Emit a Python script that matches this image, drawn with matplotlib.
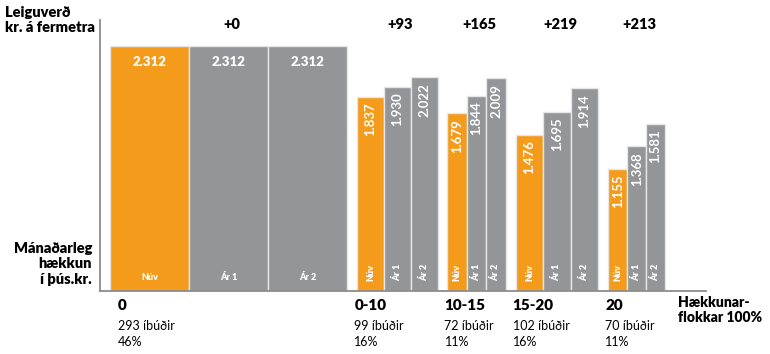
import matplotlib
matplotlib.use("Agg")
import matplotlib.pyplot as plt
from matplotlib.transforms import offset_copy

plt.rcParams['font.family'] = ['Lato', 'DejaVu Sans']

groups = ["0", "0-10", "10-15", "15-20", "20"]
counts = [293, 99, 72, 102, 70]
shares = ["46%", "16%", "11%", "16%", "11%"]
nuv = [2312, 1837, 1679, 1476, 1155]
ar1 = [2312, 1930, 1844, 1695, 1368]
ar2 = [2312, 2022, 2009, 1914, 1581]
increase = ["+0", "+93", "+165", "+219", "+213"]
series_names = ["Núv", "Ár 1", "Ár 2"]

ORANGE = "#F59B1C"
GRAY = "#939598"
colors = [ORANGE, GRAY, GRAY]

fig = plt.figure(figsize=(7.7, 3.54), dpi=100)
ax = fig.add_axes([100/770, (354-291)/354, 606/770, 271/354])
ax.set_xlim(0, 748)
ax.set_ylim(0, 2560)
for s in ["top", "right"]:
    ax.spines[s].set_visible(False)
ax.spines["left"].set_color("#8c8c8c")
ax.spines["bottom"].set_color("#8c8c8c")
ax.spines["left"].set_linewidth(1.3)
ax.spines["bottom"].set_linewidth(1.3)
ax.set_xticks([])
ax.set_yticks([])

gap = 12.3
x = gap
for gi, g in enumerate(groups):
    w = counts[gi] / 3
    vals = [nuv[gi], ar1[gi], ar2[gi]]
    for si in range(3):
        left = x + si * w
        ax.bar(left, vals[si], width=w, align="edge", color=colors[si],
               edgecolor="#e6e6e6", linewidth=1.0)
        cx = left + w / 2
        lab = f"{vals[si]:,}".replace(",", ".")
        if gi == 0:
            ax.text(cx, vals[si] - 150, lab, ha="center", va="center",
                    color="white", fontsize=9.5, fontweight="heavy")
            ax.text(cx, 125, series_names[si], ha="center", va="center",
                    color="white", fontsize=6.5, fontweight="heavy")
        else:
            ax.text(cx, vals[si] - 55, lab, ha="center", va="top",
                    rotation=90, color="white", fontsize=9.5, fontweight="bold")
            ax.text(cx, 175, series_names[si], ha="center", va="center",
                    rotation=90, color="white", fontsize=6.5, fontweight="heavy")
    gc = x + counts[gi] / 2
    ax.text(gc, 2520, increase[gi], ha="center", va="center",
            fontsize=10.5, fontweight="heavy", color="black",
            transform=offset_copy(ax.transData, fig=fig, x=3, y=0, units="dots"))
    tr = offset_copy(ax.transData, fig=fig, x=(8 if gi == 0 else -3), y=0, units="dots")
    ax.text(x, -140, g, ha="left", va="center", fontsize=11,
            fontweight="heavy", transform=tr, clip_on=False)
    ax.text(x, -330, f"{counts[gi]} íbúðir", ha="left", va="center",
            fontsize=9, transform=tr, clip_on=False)
    ax.text(x, -480, shares[gi], ha="left", va="center",
            fontsize=9, transform=tr, clip_on=False)
    x += counts[gi] + gap

fig.text(5/770, 1 - 20/354, "Leiguverð\nkr. á fermetra", ha="left", va="center",
         fontsize=10.5, fontweight="heavy", linespacing=1.2)
fig.text(92/770, 1 - 264/354, "Mánaðarleg\nhækkun\ní þús.kr.", ha="right", va="center",
         fontsize=10.5, fontweight="heavy", linespacing=1.2)
fig.text(678/770, 1 - 310/354, "Hækkunar-\nflokkar 100%", ha="left", va="center",
         fontsize=10, fontweight="heavy", linespacing=1.2)

fig.savefig("out.png", dpi=100)
